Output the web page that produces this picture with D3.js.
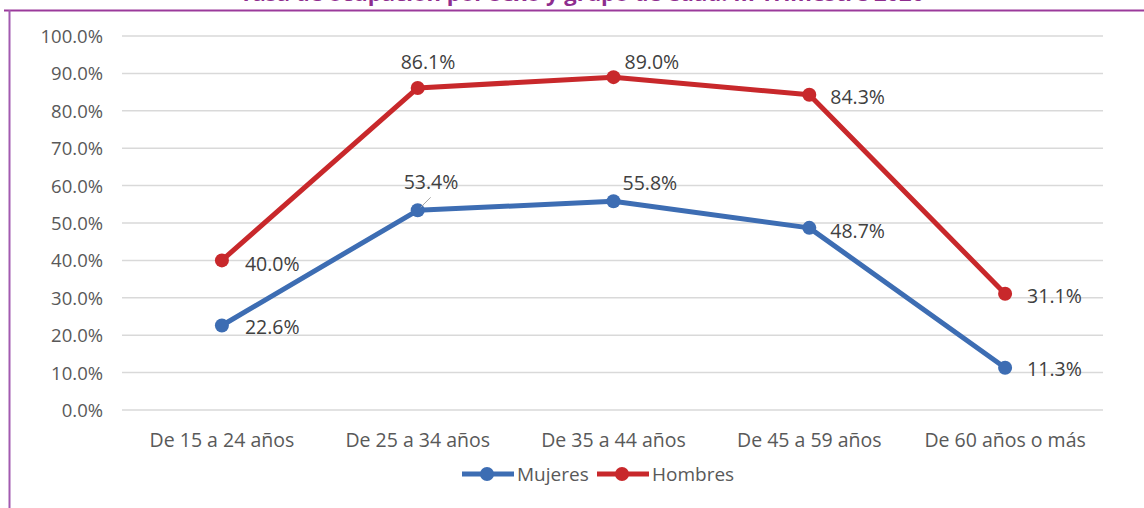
<!DOCTYPE html>
<html><head><meta charset="utf-8">
<script src="https://cdn.jsdelivr.net/npm/d3@7"></script>
<style>body{margin:0;background:#fff}svg{display:block}</style>
</head><body>
<script>
const categories = ["De 15 a 24 años","De 25 a 34 años","De 35 a 44 años","De 45 a 59 años","De 60 años o más"];
const mujeres = [22.6, 53.4, 55.8, 48.7, 11.3];
const hombres = [40.0, 86.1, 89.0, 84.3, 31.1];
const yTicks = [0,10,20,30,40,50,60,70,80,90,100];
const title = "Tasa de ocupación por sexo y grupo de edad. III Trimestre 2020";
const seriesNames = ["Mujeres","Hombres"];

const W=1144,H=508;
const font = "'Open Sans', sans-serif";
const svg=d3.select("body").append("svg").attr("width",W).attr("height",H);

// frame
svg.append("line").attr("x1",4).attr("x2",W).attr("y1",10.5).attr("y2",10.5).attr("stroke","#9b3a9b").attr("stroke-width",2);
svg.append("line").attr("x1",9.5).attr("x2",9.5).attr("y1",10).attr("y2",H).attr("stroke","#a25ab0").attr("stroke-width",2);
svg.append("text").attr("x",582).attr("y",1).attr("text-anchor","middle")
  .attr("font-family",font).attr("font-weight","bold").attr("font-size",22).attr("fill","#8e2d8e").text(title);

const x=d3.scaleBand().domain(categories).range([124,1103]);
const y=d3.scaleLinear().domain([0,100]).range([410,36]);

const grid=svg.append("g");
yTicks.forEach(t=>{
  grid.append("line").attr("x1",122).attr("x2",1103).attr("y1",y(t)).attr("y2",y(t)).attr("stroke","#d9d9d9").attr("stroke-width",1.5);
});
const yAxis=d3.axisLeft(y).tickValues(yTicks).tickSize(0).tickPadding(0).tickFormat(d=>d.toFixed(1)+"%");
const ya=svg.append("g").attr("transform","translate(103,0)").call(yAxis);
ya.select(".domain").remove();
ya.selectAll("text").attr("font-family",font).attr("font-size",18.5).attr("fill","#595959").attr("dy","0.35em");

const xAxis=d3.axisBottom(x).tickSize(0).tickPadding(0);
const xa=svg.append("g").attr("transform","translate(0,440)").call(xAxis);
xa.select(".domain").remove();
xa.selectAll("text").attr("font-family",font).attr("font-size",19.5).attr("fill","#595959").attr("dy","0.35em");

const cx=c=>x(c)+x.bandwidth()/2;
const line=d3.line().x((d,i)=>cx(categories[i])).y(d=>y(d));
const colors={Mujeres:"#3d6db3",Hombres:"#c8282b"};
[["Mujeres",mujeres],["Hombres",hombres]].forEach(([n,vals])=>{
  svg.append("path").datum(vals).attr("d",line).attr("fill","none").attr("stroke",colors[n]).attr("stroke-width",5).attr("stroke-linejoin","round");
  svg.selectAll(null).data(vals).enter().append("circle").attr("cx",(d,i)=>cx(categories[i])).attr("cy",d=>y(d)).attr("r",7).attr("fill",colors[n]);
});

// data labels: offsets relative to point (left edge, vertical centre)
const hOff=[[23,4],[-17,-26],[11,-15],[21,2],[22,2]];
const mOff=[[23,2],[-14,-28],[9,-18],[21,3],[22,1]];
function labels(vals,off){
  vals.forEach((v,i)=>{
    svg.append("text").attr("x",cx(categories[i])+off[i][0]).attr("y",y(v)+off[i][1]).attr("dy","0.35em")
      .attr("text-anchor","start").attr("font-family",font).attr("font-size",19.5).attr("fill","#404040").text(v.toFixed(1)+"%");
  });
}
labels(hombres,hOff);
labels(mujeres,mOff);
// leader line for 53.4%
svg.append("line").attr("x1",cx(categories[1])+3).attr("y1",y(mujeres[1])-3).attr("x2",cx(categories[1])+13).attr("y2",y(mujeres[1])-13).attr("stroke","#a6a6a6").attr("stroke-width",1);

// legend
const lg=svg.append("g").attr("transform","translate(0,474)");
const items=[{n:"Mujeres",x0:462},{n:"Hombres",x0:597}];
items.forEach(it=>{
  lg.append("line").attr("x1",it.x0).attr("x2",it.x0+52).attr("y1",0).attr("y2",0).attr("stroke",colors[it.n]).attr("stroke-width",5);
  lg.append("circle").attr("cx",it.x0+25).attr("cy",0).attr("r",7).attr("fill",colors[it.n]);
  lg.append("text").attr("x",it.x0+55).attr("y",0).attr("dy","0.35em").attr("font-family",font).attr("font-size",19).attr("fill","#595959").text(it.n);
});
</script>
</body></html>
